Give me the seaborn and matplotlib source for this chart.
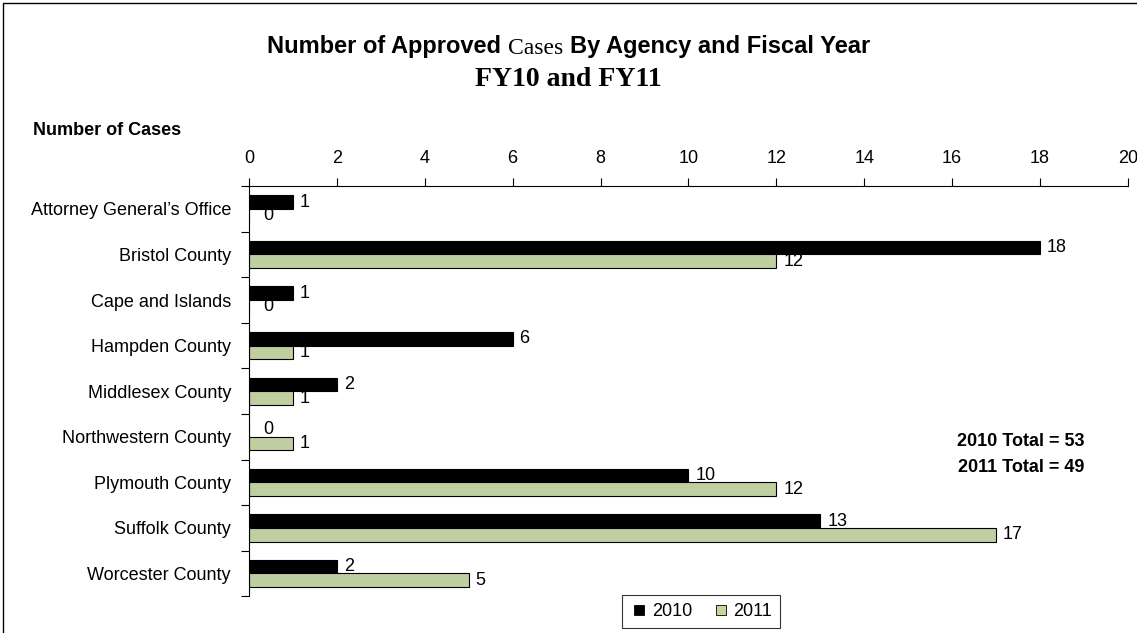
import numpy as np
import pandas as pd
import matplotlib
matplotlib.use("Agg")
import matplotlib.pyplot as plt
import seaborn as sns
from matplotlib.offsetbox import TextArea, HPacker, AnchoredOffsetbox
from matplotlib.patches import Rectangle
from matplotlib.lines import Line2D

# --- 数据 ---
agencies = ["Attorney General\u2019s Office", "Bristol County", "Cape and Islands",
            "Hampden County", "Middlesex County", "Northwestern County",
            "Plymouth County", "Suffolk County", "Worcester County"]
cases_2010 = [1, 18, 1, 6, 2, 0, 10, 13, 2]
cases_2011 = [0, 12, 0, 1, 1, 1, 12, 17, 5]
years = ["2010", "2011"]
colors = ["black", "#C3D69B"]
x_ticks = list(range(0, 21, 2))

df = pd.DataFrame({
    "agency": agencies * 2,
    "cases": cases_2010 + cases_2011,
    "year": [years[0]] * len(agencies) + [years[1]] * len(agencies),
})

sns.set_theme(style="white")
plt.rcParams["font.family"] = ["Liberation Sans", "DejaVu Sans"]
plt.rcParams.update({"text.color": "black", "xtick.color": "black",
                     "ytick.color": "black", "axes.labelcolor": "black"})

FS = 13

fig = plt.figure(figsize=(11.37, 6.33), dpi=100)
ax = fig.add_axes([0.219, 0.058, 0.773, 0.648])

sns.barplot(data=df, y="agency", x="cases", hue="year", orient="h",
            palette=colors, width=0.6, edgecolor="black",
            linewidth=0.8, ax=ax)

for cont in ax.containers:
    labels = ax.bar_label(cont, fmt="%d", padding=5, fontsize=FS, color="black")
    # 数值为 0 的标签再往右挪一点，避免压在轴线上
    for t in labels:
        if t.get_text() == "0":
            t.xyann = (10, 0)

ax.set_xlim(0, 20)
ax.set_xticks(x_ticks)
ax.xaxis.tick_top()
ax.tick_params(axis="x", which="major", direction="out", length=6, width=0.8,
               color="black", labelsize=FS, pad=8, top=True, bottom=False)
ax.set_ylim(len(agencies) - 0.5, -0.5)
ax.set_yticks(np.arange(-0.5, len(agencies), 1), minor=True)
ax.tick_params(axis="y", which="major", length=0, labelsize=FS, pad=13)
ax.tick_params(axis="y", which="minor", direction="out", length=6, width=0.8,
               color="black", left=True)
ax.set_xlabel("")
ax.set_ylabel("")
for s in ["right", "bottom"]:
    ax.spines[s].set_visible(False)
for s in ["top", "left"]:
    ax.spines[s].set_color("black")
    ax.spines[s].set_linewidth(0.8)

# 图例：方块标记
handles = [Line2D([], [], linestyle="none", marker="s", markersize=6.5,
                  markerfacecolor=c, markeredgecolor="black", markeredgewidth=0.6)
           for c in colors]
ax.legend(handles, years, loc="upper left", bbox_to_anchor=(622 / 1137, 1 - 595 / 633),
          bbox_transform=fig.transFigure,
          ncol=2, frameon=True, fancybox=False, edgecolor="black", fontsize=FS,
          handlelength=1.0, handletextpad=0.2, columnspacing=1.1,
          borderpad=0.45, borderaxespad=0)
ax.get_legend().get_frame().set_linewidth(0.8)

# 标题（混合字体）
parts = [
    TextArea("Number of Approved", textprops=dict(fontsize=17, fontweight="bold",
                                                  family="Liberation Sans", color="black")),
    TextArea("Cases", textprops=dict(fontsize=17, family="Liberation Serif", color="black")),
    TextArea("By Agency and Fiscal Year", textprops=dict(fontsize=17, fontweight="bold",
                                                         family="Liberation Sans", color="black")),
]
title_box = HPacker(children=parts, align="baseline", pad=0, sep=5)
anch = AnchoredOffsetbox(loc="center", child=title_box, pad=0, frameon=False,
                         bbox_to_anchor=(0.5, 1 - 47 / 633), bbox_transform=fig.transFigure,
                         borderpad=0)
fig.add_artist(anch)
fig.text(0.5, 1 - 79 / 633, "FY10 and FY11", ha="center", va="center", fontsize=20,
         fontweight="bold", family="Liberation Serif")

fig.text(33 / 1137, 1 - 130 / 633, "Number of Cases", ha="left", va="center",
         fontsize=FS, fontweight="bold")
fig.text(1021 / 1137, 1 - 441 / 633, "2010 Total = 53", ha="center", va="center",
         fontsize=FS, fontweight="bold")
fig.text(1021 / 1137, 1 - 467 / 633, "2011 Total = 49", ha="center", va="center",
         fontsize=FS, fontweight="bold")

# 外框
fig.add_artist(Rectangle((3 / 1137, -0.1), 1.2, 1.1 - 3 / 633, transform=fig.transFigure,
                         fill=False, edgecolor="black", linewidth=1.0))

fig.savefig("out.png", dpi=100)
